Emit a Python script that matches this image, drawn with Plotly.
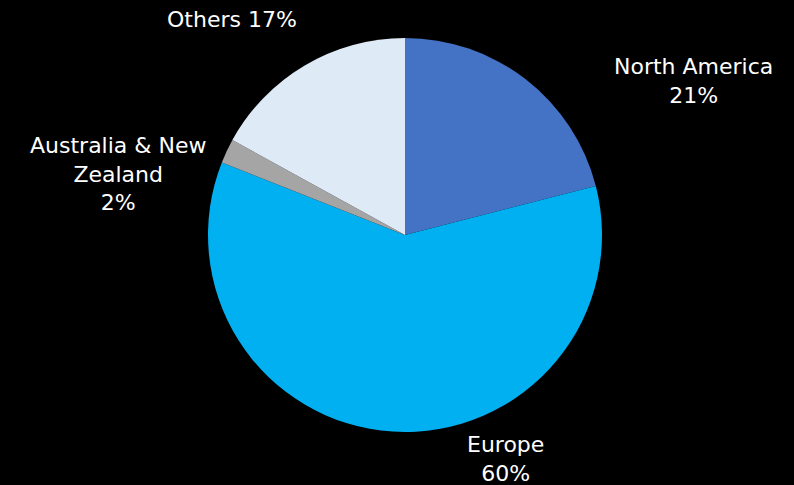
import plotly.graph_objects as go

labels = ["North America", "Europe", "Australia & New Zealand", "Others"]
values = [21, 60, 2, 17]
colors = ["#4472C4", "#00B0F0", "#A5A5A5", "#DEEBF7"]

# label text layout (line breaks) and pixel centers of the label blocks
label_lines = ["North America", "Europe", "Australia & New<br>Zealand", "Others"]
label_sep = ["<br>", "<br>", "<br>", " "]
label_px = [(693, 81), (505, 459), (118, 174), (232, 20)]

W, H = 794, 485
cx, cy, r = 405, 235, 197

fig = go.Figure(go.Pie(
    labels=labels, values=values, sort=False, direction="clockwise", rotation=0,
    marker=dict(colors=colors, line=dict(width=0)),
    textinfo="none", hoverinfo="label+percent",
    domain=dict(x=[(cx - r) / W, (cx + r) / W], y=[(H - cy - r) / H, (H - cy + r) / H]),
))

total = sum(values)
for lab, sep, (px, py), v in zip(label_lines, label_sep, label_px, values):
    fig.add_annotation(
        x=px / W, y=1 - py / H, xref="paper", yref="paper",
        text=f"{lab}{sep}{round(100 * v / total)}%", showarrow=False,
        xanchor="center", yanchor="middle", align="center",
        font=dict(family="DejaVu Sans", size=22, color="white"),
    )

fig.update_layout(
    width=W, height=H, margin=dict(l=0, r=0, t=0, b=0),
    paper_bgcolor="black", plot_bgcolor="black", showlegend=False,
)
fig.write_html("out.html")
